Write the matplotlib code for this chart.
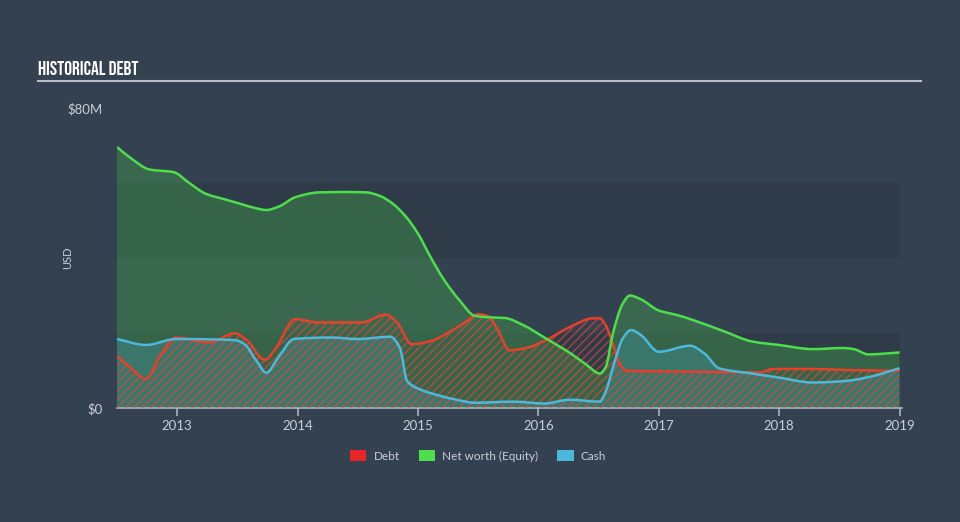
import matplotlib
matplotlib.use("Agg")
import numpy as np
import matplotlib.pyplot as plt
from matplotlib.patches import Patch, PathPatch
from matplotlib.path import Path

# ---- data (values in $M, dates in decimal years) ----
equity_t = [2012.50, 2012.62, 2012.77, 2012.97, 2013.10, 2013.24, 2013.40, 2013.52, 2013.65, 2013.74,
            2013.85, 2013.98, 2014.18, 2014.40, 2014.57, 2014.68, 2014.79, 2014.90, 2015.00, 2015.10,
            2015.22, 2015.35, 2015.47, 2015.58, 2015.72, 2015.88, 2016.05, 2016.18, 2016.28, 2016.40,
            2016.51, 2016.56, 2016.62, 2016.70, 2016.76, 2016.85, 2017.00, 2017.15, 2017.28, 2017.53,
            2017.78, 2018.00, 2018.28, 2018.53, 2018.62, 2018.74, 2019.00]
equity_v = [69.6, 66.5, 63.6, 62.9, 60.0, 57.1, 55.6, 54.5, 53.3, 52.8,
            53.8, 56.2, 57.5, 57.6, 57.5, 56.6, 54.5, 51.0, 46.5, 40.5,
            34.0, 28.5, 24.6, 24.2, 24.0, 22.0, 18.8, 16.3, 14.3, 11.5,
            9.2, 11.0, 20.0, 27.8, 30.0, 29.0, 26.0, 24.8, 23.5, 20.6,
            17.7, 16.8, 15.7, 16.0, 15.7, 14.3, 14.8]

debt_t = [2012.50, 2012.62, 2012.74, 2012.85, 2012.99, 2013.26, 2013.48, 2013.58, 2013.73, 2013.82,
          2013.98, 2014.17, 2014.53, 2014.73, 2014.82, 2014.95, 2015.10, 2015.28, 2015.40, 2015.50,
          2015.58, 2015.66, 2015.76, 2015.90, 2016.05, 2016.28, 2016.45, 2016.51, 2016.56, 2016.62,
          2016.68, 2016.74, 2017.00, 2017.50, 2017.85, 2017.94, 2018.28, 2018.60, 2019.00]
debt_v = [13.9, 10.5, 7.7, 13.5, 18.8, 17.5, 19.9, 18.0, 12.8, 16.0,
          23.7, 22.8, 22.8, 24.9, 23.0, 17.0, 17.8, 20.6, 23.0, 25.0,
          24.5, 21.0, 15.4, 16.0, 17.9, 21.9, 23.9, 23.9, 22.0, 17.0,
          11.5, 9.9, 9.8, 9.6, 9.5, 10.4, 10.4, 10.1, 9.9]

cash_t = [2012.50, 2012.74, 2012.99, 2013.48, 2013.56, 2013.66, 2013.74, 2013.84, 2013.97, 2014.28,
          2014.50, 2014.77, 2014.85, 2014.91, 2015.00, 2015.19, 2015.32, 2015.47, 2015.79, 2016.05,
          2016.26, 2016.51, 2016.56, 2016.63, 2016.70, 2016.77, 2016.85, 2017.00, 2017.26, 2017.38,
          2017.50, 2017.75, 2018.00, 2018.28, 2018.55, 2018.75, 2019.00]
cash_v = [18.4, 16.8, 18.4, 18.1, 17.0, 12.5, 9.4, 13.5, 18.4, 18.8,
          18.4, 19.0, 16.0, 7.2, 5.2, 3.2, 2.2, 1.4, 1.7, 1.2,
          2.2, 1.7, 4.5, 12.0, 18.5, 20.8, 19.5, 15.0, 16.6, 14.5,
          10.6, 9.3, 8.1, 6.8, 7.2, 8.3, 10.6]

year_ticks = [2013, 2014, 2015, 2016, 2017, 2018, 2019]
y_ticks = [0, 80]
y_tick_labels = ["$0", "$80M"]
legend_labels = ["Debt", "Net worth (Equity)", "Cash"]

# ---- style ----
BG = "#344150"
BAND = "#2f3b49"
GREEN = "#4ddf4a"
BLUE = "#4cb9dc"
RED = "#e8402a"
TXT = "#c9d0d8"
AXIS = "#aab4c0"

plt.rcParams["font.family"] = ["Lato", "DejaVu Sans"]
plt.rcParams["hatch.linewidth"] = 1.1


def smooth_path(t, v, close_to_zero=False):
    """Monotone cubic (Fritsch-Carlson) rendering of the series as Bezier path."""
    x = np.asarray(t, float)
    y = np.asarray(v, float)
    h = np.diff(x)
    d = np.diff(y) / h
    m = np.zeros_like(y)
    m[0], m[-1] = d[0], d[-1]
    for i in range(1, len(y) - 1):
        if d[i - 1] * d[i] <= 0:
            m[i] = 0.0
        else:
            w1 = 2 * h[i] + h[i - 1]
            w2 = h[i] + 2 * h[i - 1]
            m[i] = (w1 + w2) / (w1 / d[i - 1] + w2 / d[i])
    verts = [(x[0], y[0])]
    codes = [Path.MOVETO]
    for i in range(len(x) - 1):
        verts += [(x[i] + h[i] / 3, y[i] + m[i] * h[i] / 3),
                  (x[i + 1] - h[i] / 3, y[i + 1] - m[i + 1] * h[i] / 3),
                  (x[i + 1], y[i + 1])]
        codes += [Path.CURVE4] * 3
    if close_to_zero:
        verts += [(x[-1], 0), (x[0], 0), (x[0], y[0])]
        codes += [Path.LINETO, Path.LINETO, Path.CLOSEPOLY]
    return Path(verts, codes)


fig = plt.figure(figsize=(9.6, 5.22), dpi=100, facecolor=BG)
ax = fig.add_axes([117 / 960, 1 - 408 / 522, (902 - 117) / 960, (408 - 108) / 522])
ax.set_facecolor(BG)

ax.set_xlim(2012.5, 2019.02)
ax.set_ylim(0, 80)

for lo, hi in [(0, 20), (40, 60)]:
    ax.axhspan(lo, hi, xmax=(2019.0 - 2012.5) / (2019.02 - 2012.5), color=BAND, zorder=0, lw=0)

# fills
ax.add_patch(PathPatch(smooth_path(equity_t, equity_v, True), facecolor=GREEN, alpha=0.25, lw=0, zorder=1))
ax.add_patch(PathPatch(smooth_path(cash_t, cash_v, True), facecolor=BLUE, alpha=0.22, lw=0, zorder=2))
ax.add_patch(PathPatch(smooth_path(debt_t, debt_v, True), facecolor="none",
                       edgecolor=(0.92, 0.28, 0.22, 0.6), hatch="////", lw=0, zorder=3))

# lines
ax.add_patch(PathPatch(smooth_path(debt_t, debt_v), facecolor="none", edgecolor=RED, lw=1.8, zorder=4))
ax.add_patch(PathPatch(smooth_path(equity_t, equity_v), facecolor="none", edgecolor=GREEN, lw=1.8, zorder=5))
ax.add_patch(PathPatch(smooth_path(cash_t, cash_v), facecolor="none", edgecolor=BLUE, lw=1.8, zorder=6))

# axes styling
for s in ["left", "right", "top"]:
    ax.spines[s].set_visible(False)
ax.spines["bottom"].set_color(AXIS)
ax.spines["bottom"].set_linewidth(1.2)
ax.set_xticks(year_ticks)
ax.set_xticklabels([str(y) for y in year_ticks])
ax.tick_params(axis="x", colors=AXIS, length=6, width=1.2, labelcolor=TXT, labelsize=9.5, pad=3)
ax.set_yticks(y_ticks)
ax.set_yticklabels(y_tick_labels)
ax.tick_params(axis="y", length=0, labelcolor=TXT, labelsize=9.5, pad=10)
ax.set_ylabel("USD", color=TXT, fontsize=8)
ax.yaxis.set_label_coords((73 - 117) / 785, 0.5)

# title and rule
fig.text(38 / 960, 1 - 68 / 522, "HISTORICAL DEBT", color="white", fontsize=14,
         family=["Bebas Neue", "Barlow Condensed", "DejaVu Sans"], va="center", ha="left")
fig.add_artist(plt.Line2D([38 / 960, 921 / 960], [1 - 81 / 522, 1 - 81 / 522],
                          color="#b8bec6", lw=1.5, transform=fig.transFigure))

# legend
handles = [Patch(facecolor="#e8262a", edgecolor="none"),
           Patch(facecolor=GREEN, edgecolor="none"),
           Patch(facecolor=BLUE, edgecolor="none")]
leg = fig.legend(handles, legend_labels, loc="center", bbox_to_anchor=(478 / 960, 1 - 456 / 522),
                 ncol=3, frameon=False, fontsize=8.5, handlelength=1.4, handleheight=1.0,
                 handletextpad=0.6, columnspacing=1.6)
for t in leg.get_texts():
    t.set_color(TXT)

fig.savefig("out.png", dpi=100, facecolor=BG)
